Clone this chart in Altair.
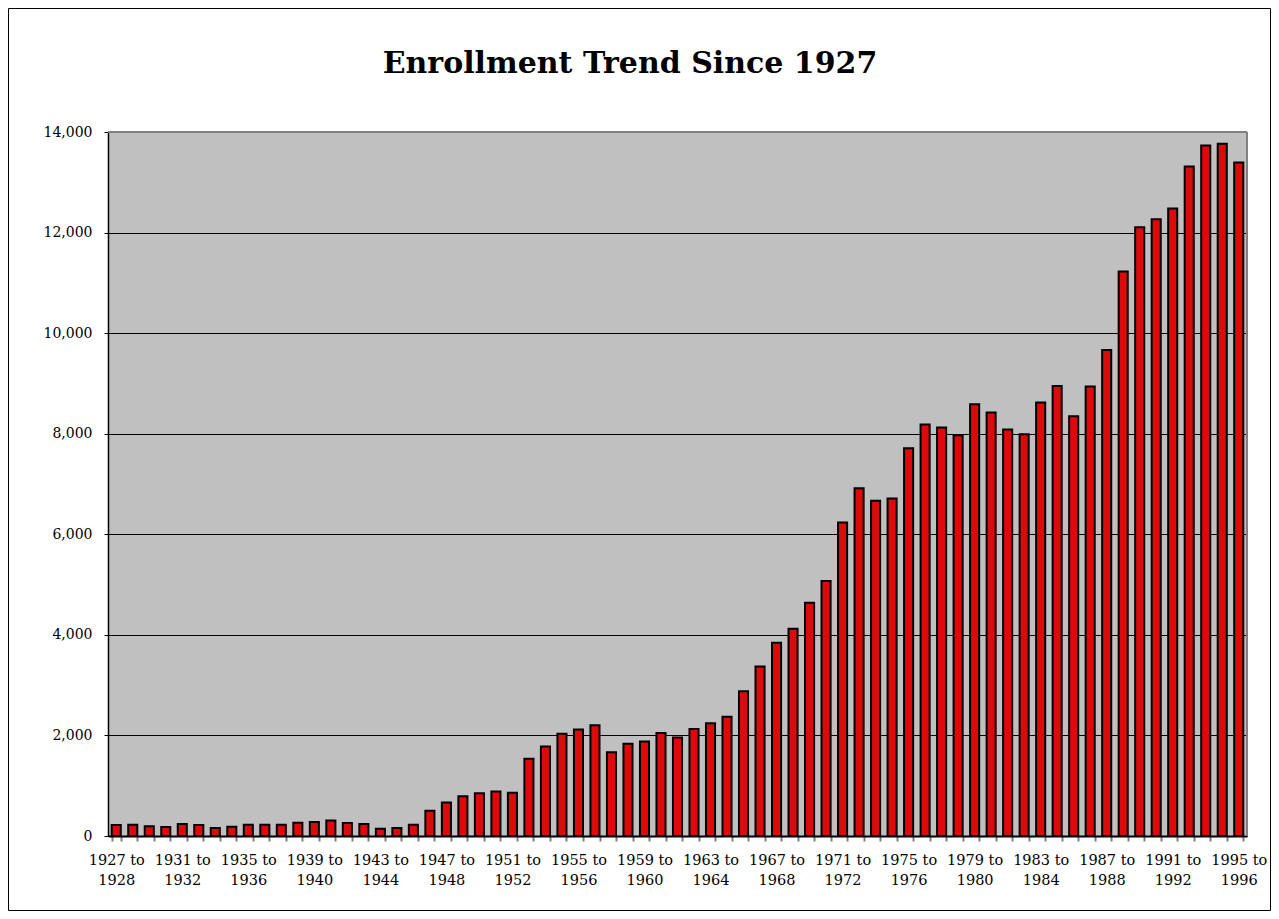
import altair as alt
import pandas as pd

start_years = list(range(1927, 1996))
periods = [f"{y} to {y + 1}" for y in start_years]
enrollment = [
    218, 225, 192, 178, 238, 218, 158, 185, 225, 225,
    225, 264, 277, 310, 257, 238, 145, 158, 225, 503,
    667, 792, 851, 885, 858, 1538, 1782, 2034, 2120, 2200,
    1663, 1835, 1881, 2048, 1960, 2130, 2240, 2370, 2877, 3370,
    3842, 4121, 4640, 5071, 6235, 6913, 6666, 6714, 7711, 8182,
    8122, 7970, 8588, 8421, 8082, 7990, 8620, 8947, 8349, 8940,
    9665, 11226, 12106, 12266, 12480, 13313, 13733, 13766, 13393,
]
y_ticks = [0, 2000, 4000, 6000, 8000, 10000, 12000, 14000]
title_text = ["Enrollment Trend Since 1927"]

df = pd.DataFrame({"period": periods, "enrollment": enrollment})

W, H = 1139, 704
PL, PT, PR, PB = 100, 124, 24, 75
FONT = "DejaVu Serif"

label_expr = (
    "isString(datum.value) && (toNumber(slice(datum.value, 0, 4)) - 1927) % 4 == 0 ? "
    "[slice(datum.value, 0, 7), slice(datum.value, 8)] : ''"
)

bars = alt.Chart(df).mark_bar(fill="#dc0a0a", stroke="black", strokeWidth=2).encode(
    x=alt.X(
        "period:N",
        sort=periods,
        title=None,
        scale=alt.Scale(paddingInner=0.45, paddingOuter=0.225),
        axis=alt.Axis(
            labelExpr=label_expr,
            labelAngle=0,
            labelOverlap=False,
            labelFont=FONT,
            labelFontSize=14.5,
            labelColor="black",
            labelLineHeight=20,
            labelPadding=12,
            tickSize=5,
            tickColor="#7f7f7f",
            tickWidth=2,
            tickBand="extent",
            domainColor="black",
            domainWidth=2,
            grid=False,
        ),
    ),
    y=alt.Y(
        "enrollment:Q",
        title=None,
        scale=alt.Scale(domain=[0, 14000], nice=False),
        axis=alt.Axis(
            values=y_ticks,
            format=",.0f",
            grid=True,
            gridColor="black",
            gridWidth=1,
            tickSize=4,
            tickColor="black",
            tickWidth=1,
            domainColor="black",
            domainWidth=1.5,
            labelFont=FONT,
            labelFontSize=14,
            labelColor="black",
            labelPadding=12,
        ),
    ),
)

one = pd.DataFrame({"a": [0]})
top_rule = alt.Chart(one).mark_rule(color="#808080", strokeWidth=2).encode(
    x=alt.value(0), x2=alt.value(W), y=alt.value(0)
)
right_rule = alt.Chart(one).mark_rule(color="#808080", strokeWidth=2).encode(
    x=alt.value(W), y=alt.value(0), y2=alt.value(H)
)
frame = alt.Chart(one).mark_rect(fillOpacity=0, stroke="black", strokeWidth=1).encode(
    x=alt.value(-PL + 0.5),
    x2=alt.value(W + PR - 0.5),
    y=alt.value(-PT + 0.5),
    y2=alt.value(H + PB - 0.5),
)
title = alt.Chart(pd.DataFrame({"t": title_text})).mark_text(
    font=FONT, fontSize=30, fontWeight="bold", align="center", baseline="middle", color="black"
).encode(x=alt.value(522), y=alt.value(-68), text="t:N")

chart = (
    alt.layer(bars, top_rule, right_rule, frame, title)
    .properties(width=W, height=H, padding=0, background="white")
    .configure_view(fill="#c0c0c0", strokeWidth=0)
)

chart.save("out.html", embed_options={"renderer": "svg", "actions": False})
